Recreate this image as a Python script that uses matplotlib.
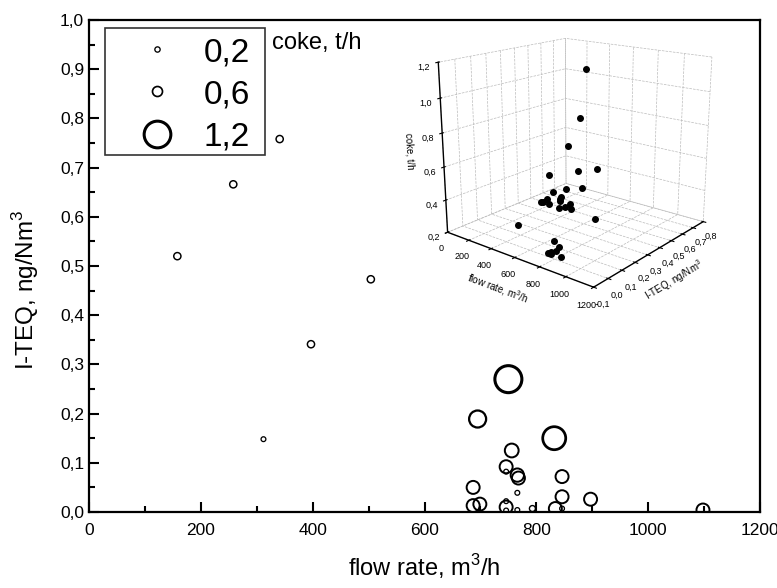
import numpy as np
import matplotlib
matplotlib.use("Agg")
import matplotlib.pyplot as plt
from matplotlib.lines import Line2D
from matplotlib.patches import Rectangle
from matplotlib.ticker import FuncFormatter, MultipleLocator

plt.rcParams['font.family'] = ['Liberation Sans', 'DejaVu Sans']
plt.rcParams['mathtext.fontset'] = 'custom'
plt.rcParams['mathtext.rm'] = 'Liberation Sans'

# ---- data ----
flow_rate = [158, 258, 341, 397, 504, 312,
             750, 695, 832, 756, 746, 746, 766, 768, 846, 687, 766, 846, 897,
             687, 699, 746, 746, 746, 766, 793, 834, 846, 1098]
iteq = [0.520, 0.666, 0.758, 0.341, 0.473, 0.148,
        0.270, 0.189, 0.150, 0.125, 0.092, 0.082, 0.075, 0.069, 0.072, 0.050, 0.039, 0.031, 0.026,
        0.013, 0.016, 0.010, 0.022, 0.003, 0.004, 0.007, 0.007, 0.007, 0.004]
coke = [0.38, 0.38, 0.38, 0.38, 0.38, 0.22,
        1.18, 0.76, 0.95, 0.55, 0.50, 0.22, 0.52, 0.50, 0.50, 0.50, 0.22, 0.50, 0.50,
        0.50, 0.50, 0.50, 0.22, 0.22, 0.22, 0.30, 0.50, 0.22, 0.50]
legend_values = [0.2, 0.6, 1.2]
legend_labels = ["0,2", "0,6", "1,2"]

# visual size mapping coke -> diameter (px)
map_c = [0.2, 0.3, 0.4, 0.5, 0.76, 0.95, 1.18]
map_d = [4.5, 6.0, 7.5, 13.0, 17.0, 23.0, 27.0]
legend_diam_px = [5.3, 10.0, 26.7]

W, H = 777, 588
PX = 0.72  # points per pixel at dpi 100

def comma(v, pos=None, nd=1):
    return f"{v:.{nd}f}".replace('.', ',')

def fx(px):
    return px / W

def fy(py):
    return 1 - py / H

fig = plt.figure(figsize=(7.77, 5.88), dpi=100)
ax = fig.add_axes([fx(89), fy(512), (760-89)/W, (512-20)/H])

c = np.array(coke)
d_px = np.interp(c, map_c, map_d)
lw_px = 0.9 + d_px * 0.08
ax.scatter(flow_rate, iteq, s=(d_px * PX) ** 2, facecolors='none', edgecolors='black',
           linewidths=lw_px * PX, zorder=3)

ax.set_xlim(0, 1200)
ax.set_ylim(0, 1.0)
ax.xaxis.set_major_locator(MultipleLocator(200))
ax.xaxis.set_minor_locator(MultipleLocator(100))
ax.yaxis.set_major_locator(MultipleLocator(0.1))
ax.yaxis.set_minor_locator(MultipleLocator(0.05))
ax.yaxis.set_major_formatter(FuncFormatter(lambda v, p: comma(v)))
ax.xaxis.set_major_formatter(FuncFormatter(lambda v, p: f"{v:.0f}"))
ax.tick_params(which='both', direction='in', top=False, right=False, width=1.5, labelsize=12.5)
ax.tick_params(which='major', length=7)
ax.tick_params(which='minor', length=4)
ax.tick_params(axis='x', pad=8)
for s in ax.spines.values():
    s.set_linewidth(1.6)
    s.set_zorder(5)

ax.set_xlabel("flow rate, m$^3$/h", fontsize=17, labelpad=10)
ax.set_ylabel("I-TEQ, ng/Nm$^3$", fontsize=17.5)
ax.yaxis.set_label_coords(-0.071, 0.451)

# ---- legend (manual, Origin style) ----
fig.patches.append(Rectangle((fx(105), fy(155)), (265-105)/W, (155-28)/H,
                             transform=fig.transFigure, facecolor='white',
                             edgecolor='#333333', linewidth=1.2, zorder=6))
for val, lab, dp, yy in zip(legend_values, legend_labels, legend_diam_px, [49, 91, 134]):
    fig.lines.append(Line2D([fx(157)], [fy(yy)], transform=fig.transFigure,
                            linestyle='none', marker='o', markerfacecolor='none',
                            markeredgecolor='black', markersize=dp * PX,
                            markeredgewidth=(0.9 + dp * 0.08) * PX, zorder=7))
    fig.text(fx(250), fy(yy), lab, fontsize=24, ha='right', va='center_baseline', zorder=7)
fig.text(fx(272), fy(43), "coke, t/h", fontsize=17, va='center', ha='left')

# ---- 3D inset ----
ax3 = fig.add_axes([0.488, 0.482, 0.50, 0.525], projection='3d')
ax3.set_proj_type('persp', focal_length=0.45)
ax3.scatter(flow_rate, iteq, coke, c='black', s=16, depthshade=False)
ax3.set_xlim(0, 1200)
ax3.set_ylim(-0.1, 0.8)
ax3.set_zlim(0.2, 1.2)
ax3.view_init(elev=17, azim=-51)
ax3.set_box_aspect((1, 1, 0.93))
ax3.set_xticks([0, 200, 400, 600, 800, 1000, 1200])
ax3.set_yticks([-0.1, 0.0, 0.1, 0.2, 0.3, 0.4, 0.5, 0.6, 0.7, 0.8])
ax3.set_zticks([0.2, 0.4, 0.6, 0.8, 1.0, 1.2])
ax3.xaxis.set_major_formatter(FuncFormatter(lambda v, p: f"{v:.0f}"))
ax3.yaxis.set_major_formatter(FuncFormatter(lambda v, p: comma(v)))
ax3.zaxis.set_major_formatter(FuncFormatter(lambda v, p: comma(v)))
ax3.tick_params(labelsize=6.5, pad=-2)
ax3.zaxis.set_ticks_position('lower')
ax3.zaxis.set_label_position('lower')
ax3.set_xlabel("flow rate, m$^3$/h", fontsize=7, labelpad=-6)
ax3.set_ylabel("I-TEQ, ng/Nm$^3$", fontsize=7, labelpad=-6)
ax3.set_zlabel("coke, t/h", fontsize=7, labelpad=-7)
for a in (ax3.xaxis, ax3.yaxis, ax3.zaxis):
    a.set_pane_color((1, 1, 1, 0))
    a.pane.set_edgecolor('#888888')
    a._axinfo['grid']['color'] = '#bbbbbb'
    a._axinfo['grid']['linewidth'] = 0.5
    a._axinfo['grid']['linestyle'] = '--'
    a.line.set_color('black')
    a.line.set_linewidth(1.0)
ax3.patch.set_alpha(0)

fig.savefig("out.png", dpi=100)
